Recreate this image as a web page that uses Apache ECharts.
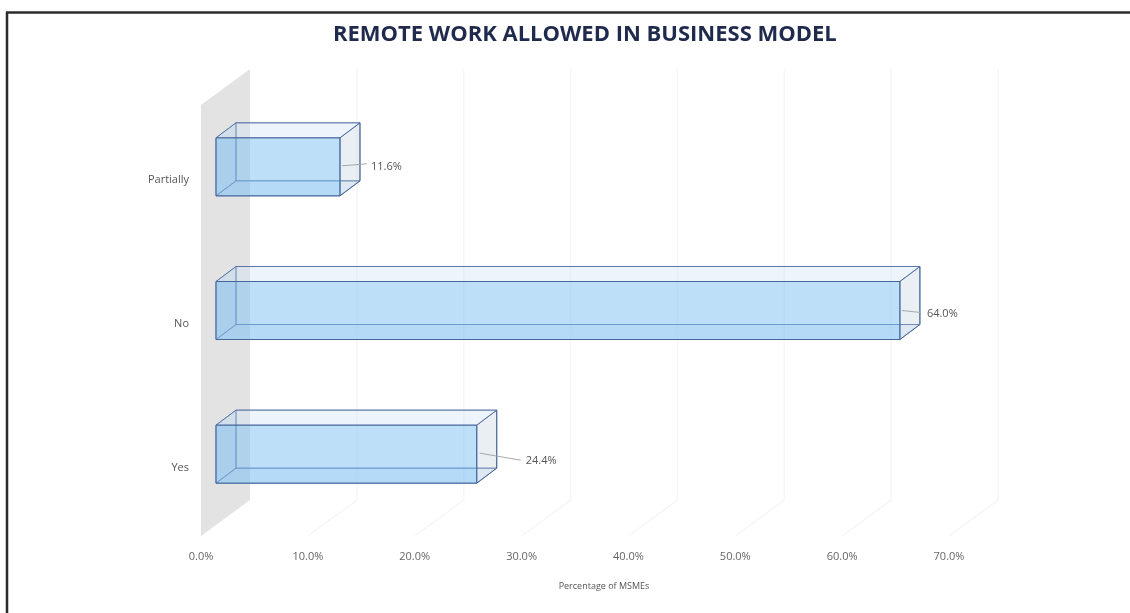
<!DOCTYPE html>
<html>
<head>
<meta charset="utf-8">
<style>html,body{margin:0;padding:0;background:#fff}#c{width:1130px;height:613px}</style>
<script src="https://cdn.jsdelivr.net/npm/echarts@6/dist/echarts.min.js"></script>
</head>
<body>
<div id="c"></div>
<script>
const titleText = 'REMOTE WORK ALLOWED IN BUSINESS MODEL';
const xAxisTitle = 'Percentage of MSMEs';
const categories = ['Yes', 'No', 'Partially'];
const shares = [24.4, 64.0, 11.6];
const xTicks = [0, 10, 20, 30, 40, 50, 60, 70];

const FONT = '"Open Sans", sans-serif';
const WALL_DX = 49, WALL_DY = -36;      // floor depth
const BAR_DX = 15, BAR_DY = -10;        // front face offset from the axis plane
const DEPTH_DX = 20, DEPTH_DY = -15;    // bar depth
const BAR_H = 58;
const EDGE = '#46659b';
// leader end and label anchor, relative to middle of the bar's right edge
const leaders = [
  {sx: 3, sy: -1, ex: 44, ey: 6, tx: 49, ty: 7},
  {sx: 2, sy: 0, ex: 21, ey: 2, tx: 27, ty: 3},
  {sx: 2, sy: -1, ex: 27, ey: -3, tx: 31, ty: 0}
];

function poly(pts, fill, stroke, z) {
  return {type: 'polygon', shape: {points: pts}, z2: z,
    style: {fill: fill, stroke: stroke, lineWidth: 1}};
}

function renderWall(params, api) {
  const cs = params.coordSys;
  const x0 = cs.x, t = cs.y, b = cs.y + cs.height;
  return {type: 'polygon', silent: true, shape: {points: [
    [x0, t], [x0 + WALL_DX, t + WALL_DY], [x0 + WALL_DX, b + WALL_DY], [x0, b]
  ]}, style: {fill: '#e3e3e3'}};
}

function renderTick(params, api) {
  const cs = params.coordSys;
  const p = api.coord([api.value(0), 0]);
  const b = cs.y + cs.height;
  return {type: 'polyline', silent: true, shape: {points: [
    [p[0] + WALL_DX, cs.y + WALL_DY], [p[0] + WALL_DX, b + WALL_DY], [p[0], b]
  ]}, style: {fill: null, stroke: '#f6f6f6', lineWidth: 1.5}};
}

function renderBar(params, api) {
  const cat = api.value(0), val = api.value(1);
  const zero = api.coord([0, cat]), end = api.coord([val, cat]);
  const xl = zero[0] + BAR_DX, xr = end[0] + BAR_DX;
  const yt = zero[1] + BAR_DY - BAR_H / 2, yb = yt + BAR_H;
  const d = DEPTH_DX, e = DEPTH_DY;
  const L = leaders[params.dataIndex];
  const ym = (yt + yb) / 2;
  const lp = (x, y) => [x + d, y + e];
  return {type: 'group', children: [
    poly([lp(xl, yt), lp(xr, yt), lp(xr, yb), lp(xl, yb)], 'rgba(190,220,245,0.08)', 'rgba(70,101,155,0.75)', 1),
    poly([[xl, yb], [xr, yb], lp(xr, yb), lp(xl, yb)], 'rgba(135,195,242,0.2)', 'rgba(70,101,155,0.75)', 2),
    poly([[xl, yt], lp(xl, yt), lp(xl, yb), [xl, yb]], 'rgba(135,195,242,0.2)', 'rgba(70,101,155,0.75)', 3),
    poly([[xr, yt], lp(xr, yt), lp(xr, yb), [xr, yb]], 'rgba(200,208,220,0.3)', EDGE, 4),
    poly([[xl, yt], [xr, yt], lp(xr, yt), lp(xl, yt)], 'rgba(215,230,245,0.35)', 'rgba(70,101,155,0.65)', 5),
    poly([[xl, yt], [xr, yt], [xr, yb], [xl, yb]], 'rgba(135,195,242,0.52)', EDGE, 6),
    {type: 'line', z2: 7, shape: {x1: xr + L.sx, y1: ym + L.sy, x2: xr + L.ex, y2: ym + L.ey},
      style: {stroke: '#a8a8a8', lineWidth: 1}},
    {type: 'text', z2: 8, style: {x: xr + L.tx, y: ym + L.ty,
      text: api.value(1).toFixed(1) + '%', fill: '#555', font: '11px ' + FONT,
      textAlign: 'left', textVerticalAlign: 'middle'}}
  ]};
}

const chart = echarts.init(document.getElementById('c'), null, {renderer: 'canvas'});
chart.setOption({
  animation: false,
  backgroundColor: '#fff',
  title: {
    text: titleText, left: 328, top: 19,
    textStyle: {fontFamily: FONT, fontSize: 22, fontWeight: 700, color: '#1f2a4d'}
  },
  grid: {left: 201, top: 105, width: 748, height: 431, containLabel: false},
  xAxis: {
    type: 'value', min: 0, max: 70, interval: 10,
    name: xAxisTitle, nameLocation: 'middle', nameGap: 46,
    nameTextStyle: {fontFamily: FONT, fontSize: 9, color: '#555', padding: [0, 0, 0, 58]},
    axisLine: {show: false}, axisTick: {show: false}, splitLine: {show: false},
    axisLabel: {margin: 15, fontFamily: FONT, fontSize: 11, color: '#666',
      formatter: v => v.toFixed(1) + '%'}
  },
  yAxis: {
    type: 'category', data: categories,
    axisLine: {show: false}, axisTick: {show: false}, splitLine: {show: false},
    axisLabel: {margin: 12, fontFamily: FONT, fontSize: 11, color: '#555',
      verticalAlign: 'top', lineHeight: 7}
  },
  series: [
    {type: 'custom', coordinateSystem: 'cartesian2d', clip: false, silent: true, z: 1,
      data: [[0, 0]], renderItem: renderWall, encode: {x: 0, y: 1}},
    {type: 'custom', coordinateSystem: 'cartesian2d', clip: false, silent: true, z: 2,
      data: xTicks.slice(1).map(t => [t, 0]), renderItem: renderTick, encode: {x: 0, y: 1}},
    {type: 'custom', coordinateSystem: 'cartesian2d', clip: false, z: 3,
      data: categories.map((c, i) => [i, shares[i]]),
      renderItem: renderBar, encode: {x: 1, y: 0}}
  ],
  graphic: [
    {type: 'line', silent: true, shape: {x1: 6, y1: 12.5, x2: 1130, y2: 12.5},
      style: {stroke: '#2b2b2b', lineWidth: 2.5}},
    {type: 'line', silent: true, shape: {x1: 7, y1: 12, x2: 7, y2: 613},
      style: {stroke: '#2b2b2b', lineWidth: 2.5}}
  ]
});
</script>
</body>
</html>
